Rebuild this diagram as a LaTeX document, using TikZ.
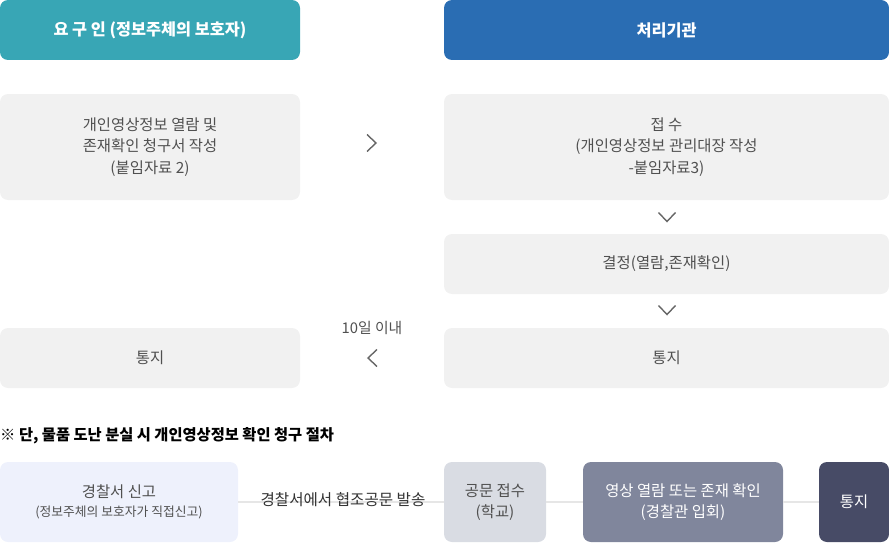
\documentclass[tikz,border=0pt]{standalone}
\usepackage{fontspec}
\setmainfont{Noto Sans CJK KR}
\definecolor{teal1}{HTML}{38A6B5}
\definecolor{blue1}{HTML}{2A6DB3}
\definecolor{grayfill}{HTML}{F1F1F1}
\definecolor{graytext}{HTML}{505050}
\definecolor{chev}{HTML}{666666}
\definecolor{lightblue}{HTML}{EEF1FC}
\definecolor{gray2}{HTML}{D9DCE3}
\definecolor{gray3}{HTML}{80869C}
\definecolor{navy}{HTML}{474B66}
\definecolor{linegray}{HTML}{E6E6E6}
\begin{document}
\begin{tikzpicture}[x=1pt,y=-1pt,
  boxbase/.style={rounded corners=8pt, inner sep=0pt, align=center},
  header/.style={boxbase, text=white, font=\bfseries\fontsize{16.3}{19}\selectfont},
  graybox/.style={boxbase, fill=grayfill, text=graytext, font=\fontsize{15.4}{21.5}\selectfont},
  chevron/.style={draw=chev, line width=1.4pt},
  botbox/.style={boxbase, font=\fontsize{15.4}{21.5}\selectfont}]
\useasboundingbox (0,0) rectangle (889,543);
% headers
\node[header, fill=teal1, minimum width=300pt, minimum height=60pt] (h1) at (150,30) {요 구 인 (정보주체의 보호자)};
\node[header, fill=blue1, minimum width=445pt, minimum height=60pt] (h2) at (666.5,30) {처리기관};
% row 2
\node[graybox, minimum width=300pt, minimum height=106pt] (req) at (150,147) {개인영상정보 열람 및\\존재확인 청구서 작성\\(붙임자료 2)};
\node[graybox, minimum width=445pt, minimum height=106pt] (rcv) at (666.5,147) {접 수\\(개인영상정보 관리대장 작성\\-붙임자료3)};
% row 3
\node[graybox, minimum width=445pt, minimum height=60pt] (dec) at (666.5,264) {결정(열람,존재확인)};
% row 4
\node[graybox, minimum width=300pt, minimum height=60pt] (ntl) at (150,358) {통지};
\node[graybox, minimum width=445pt, minimum height=60pt] (ntr) at (666.5,358) {통지};
% chevrons
\coordinate (c1) at (372,143);
\draw[chevron] ([xshift=-5pt,yshift=8.5pt]c1) -- ([xshift=4pt]c1) -- ([xshift=-5pt,yshift=-8.5pt]c1);
\coordinate (c2) at (667,217);
\draw[chevron] ([xshift=-8.5pt,yshift=4.5pt]c2) -- ([yshift=-4.5pt]c2) -- ([xshift=8.5pt,yshift=4.5pt]c2);
\coordinate (c3) at (667,310);
\draw[chevron] ([xshift=-8.5pt,yshift=4.5pt]c3) -- ([yshift=-4.5pt]c3) -- ([xshift=8.5pt,yshift=4.5pt]c3);
\coordinate (c4) at (372,358);
\draw[chevron] ([xshift=5pt,yshift=8.5pt]c4) -- ([xshift=-4pt]c4) -- ([xshift=5pt,yshift=-8.5pt]c4);
\node[text=graytext, font=\fontsize{14.8}{16}\selectfont] (days) at (372,328) {10일 이내};
% note
\node[anchor=west, inner sep=0pt, text=black, font=\bfseries\fontsize{15.3}{17}\selectfont] (note) at (0,436) {※ 단, 물품 도난 분실 시 개인영상정보 확인 청구 절차};
% bottom row
\node[botbox, fill=lightblue, text=graytext, minimum width=238pt, minimum height=80pt] (b1) at (119,502) {경찰서 신고\\[-3pt]{\fontsize{12.8}{15}\selectfont(정보주체의 보호자가 직접신고)}};
\node[botbox, fill=gray2, text=graytext, minimum width=102pt, minimum height=80pt] (b2) at (495,502) {공문 접수\\(학교)};
\node[botbox, fill=gray3, text=white, minimum width=200pt, minimum height=80pt] (b3) at (683,502) {영상 열람 또는 존재 확인\\(경찰관 입회)};
\node[botbox, fill=navy, text=white, minimum width=70pt, minimum height=80pt] (b4) at (854,502) {통지};
\draw[linegray, line width=1.5pt] (b1.east) -- (b2.west);
\draw[linegray, line width=1.5pt] (b2.east) -- (b3.west);
\draw[linegray, line width=1.5pt] (b3.east) -- (b4.west);
\node[text=black!80, font=\fontsize{15.6}{17}\selectfont] (lbl) at (343,500) {경찰서에서 협조공문 발송};
\end{tikzpicture}
\end{document}
